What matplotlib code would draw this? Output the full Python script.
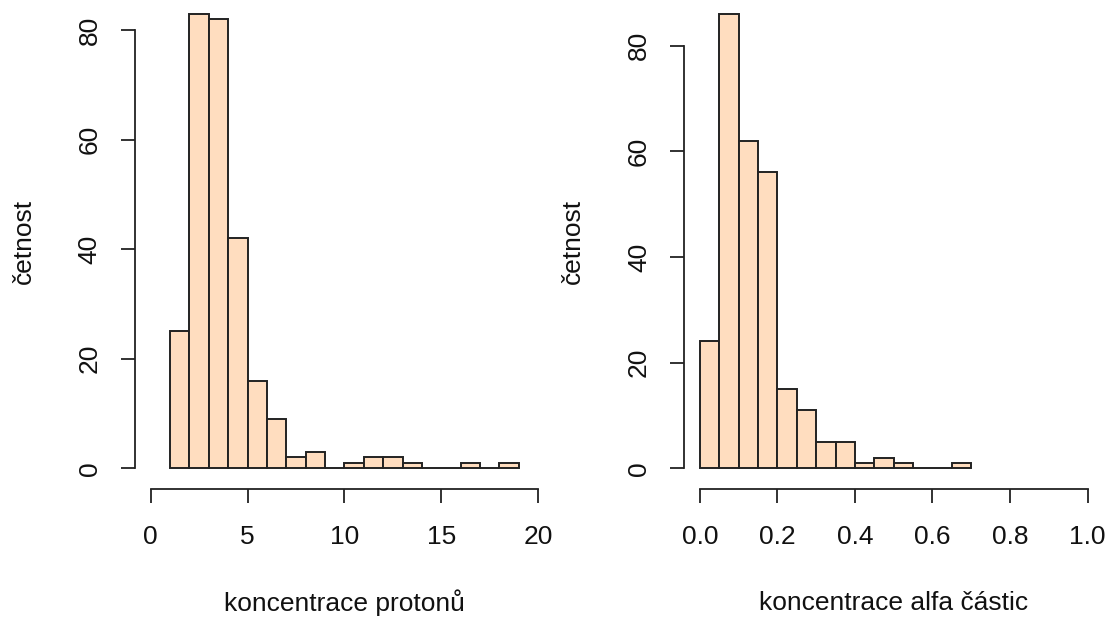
import matplotlib
matplotlib.use("Agg")
import matplotlib.pyplot as plt
import numpy as np

plt.rcParams['font.family'] = ['Liberation Sans', 'DejaVu Sans']

# histogram counts
proton_edges = np.arange(1, 19)          # bins of width 1, from 1 to 19
proton_counts = [25, 83, 82, 42, 16, 9, 2, 3, 0, 1, 2, 2, 1, 0, 0, 1, 0, 1]
alfa_edges = np.arange(14) * 0.05        # bins of width 0.05, from 0 to 0.7
alfa_counts = [24, 86, 62, 56, 15, 11, 5, 5, 1, 2, 1, 0, 0, 1]

proton_xticks = [0, 5, 10, 15, 20]
alfa_xticks = [0.0, 0.2, 0.4, 0.6, 0.8, 1.0]
yticks = [0, 20, 40, 60, 80]

fill = '#FFDDBF'
ink = '#222222'
txt = '#111111'

fig = plt.figure(figsize=(11.07, 6.19), dpi=100)
ax1 = fig.add_axes([0.1221, 0.2141, 0.3781, 0.7929])
ax2 = fig.add_axes([0.6183, 0.2141, 0.3781, 0.7929])

panels = [
    (ax1, proton_edges, 1.0, proton_counts, (0, 20), proton_xticks,
     [str(t) for t in proton_xticks], "koncentrace protonů"),
    (ax2, alfa_edges, 0.05, alfa_counts, (0, 1), alfa_xticks,
     [f"{t:.1f}" for t in alfa_xticks], "koncentrace alfa částic"),
]

for ax, edges, w, counts, xr, xt, xtl, xlab in panels:
    ax.bar(edges, counts, width=w, align='edge', color=fill,
           edgecolor=ink, linewidth=1.4)
    span = xr[1] - xr[0]
    ax.set_xlim(xr[0] - 0.04 * span, xr[1] + 0.04 * span)
    top = max(counts)
    ax.set_ylim(-0.04 * top, 1.04 * top)

    for s in ['top', 'right']:
        ax.spines[s].set_visible(False)
    ax.spines['bottom'].set_bounds(xr[0], xr[1])
    ax.spines['left'].set_bounds(0, 80)
    ax.spines['bottom'].set_position(('outward', 2))
    for s in ['bottom', 'left']:
        ax.spines[s].set_color(ink)
        ax.spines[s].set_linewidth(1.3)

    ax.set_xticks(xt)
    ax.set_xticklabels(xtl)
    ax.set_yticks(yticks)
    ax.set_yticklabels([str(t) for t in yticks])
    ax.tick_params(axis='both', direction='out', length=10, width=1.3,
                   color=ink, labelcolor=txt, labelsize=19)
    ax.tick_params(axis='x', pad=16)
    ax.tick_params(axis='y', pad=14, labelrotation=90)
    for lab in ax.get_yticklabels():
        lab.set_va('center')

    ax.set_xlabel(xlab, fontsize=19, color=txt, va='center')
    ax.xaxis.set_label_coords(0.5, -0.237)
    ax.set_ylabel("četnost", fontsize=19, color=txt, va='center')
    ax.yaxis.set_label_coords(-0.2656, 0.5)

fig.savefig("out.png", dpi=100)
